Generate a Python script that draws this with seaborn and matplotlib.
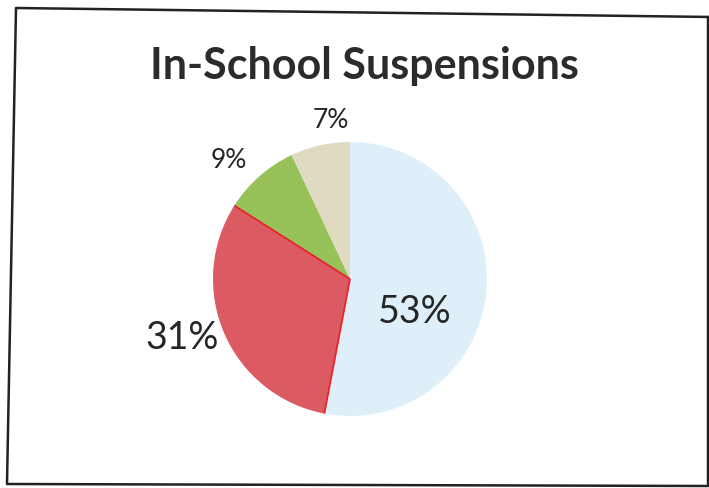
import matplotlib
matplotlib.use("Agg")
import numpy as np
import matplotlib.pyplot as plt
from matplotlib.lines import Line2D
import seaborn as sns

sns.set_theme(style="white")
plt.rcParams["font.family"] = ["Lato", "DejaVu Sans"]

# Share of in-school suspensions by category (clockwise from 12 o'clock)
categories = ["A", "B", "C", "D"]
shares = [53, 31, 9, 7]
slice_colors = ["#dfeffa", "#dc5a62", "#97c25a", "#e0dbc0"]
title = "In-School Suspensions"

# Label placement (pixel coordinates, y measured from the top) and sizes
label_pos = [(415, 312), (182, 338), (229, 161), (331, 121)]
label_size = [27, 27, 19, 19]

W, H = 709, 489
CX, CY, R = 350, H - 280, 137
fig = plt.figure(figsize=(W / 100, H / 100), dpi=100)
ax = fig.add_axes([0, 0, 1, 1])

wedges, _ = ax.pie(
    shares,
    colors=slice_colors,
    startangle=90,
    counterclock=False,
    center=(CX, CY),
    radius=R,
    frame=True,
    wedgeprops=dict(linewidth=0),
)

# Thin red rule along both straight edges of the red slice
red = wedges[1]
for ang in (red.theta1, red.theta2):
    t = np.deg2rad(ang)
    ax.plot([CX, CX + R * np.cos(t)], [CY, CY + R * np.sin(t)],
            color="#e8232c", linewidth=1.3, solid_capstyle="butt")

for v, (x, y), fs in zip(shares, label_pos, label_size):
    ax.text(x, H - y, f"{v}%", ha="center", va="center",
            fontsize=fs, color="#262626")

ax.text(364, H - 66, title, ha="center", va="center",
        fontsize=31, fontweight="bold", color="#2b2b2b")

ax.set_xlim(0, W)
ax.set_ylim(0, H)
ax.set_aspect("equal")
ax.axis("off")

# Slightly skewed outer frame of the chart area
frame_x = [712, 16, 7, 708, 708]
frame_y = [18, 9, 485, 487, 18]
fig.add_artist(Line2D([x / W for x in frame_x], [1 - y / H for y in frame_y],
                      color="#222222", linewidth=1.8,
                      transform=fig.transFigure))

fig.savefig("out.png", dpi=100, facecolor="white")
